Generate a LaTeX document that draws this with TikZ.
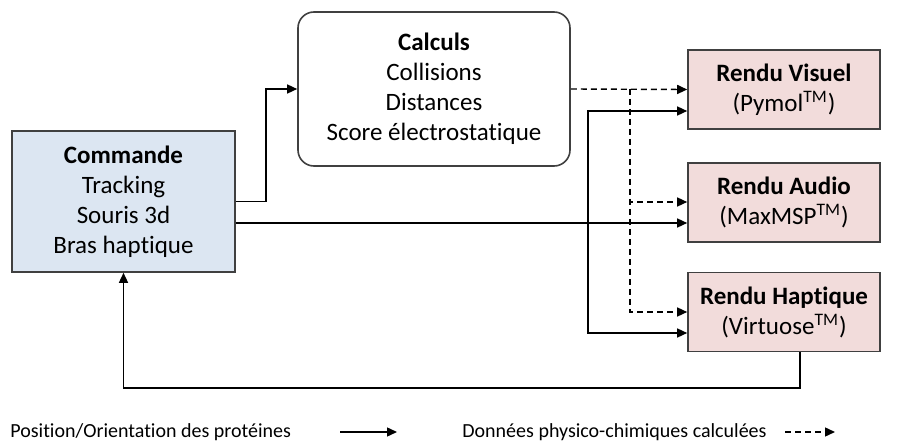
\documentclass[tikz,border=0pt]{standalone}
\usepackage{fontspec}
\setmainfont{Carlito}[Ligatures=CommonOff]
\usetikzlibrary{arrows.meta}

\definecolor{bleu}{HTML}{DCE6F2}
\definecolor{rose}{HTML}{F2DCDB}
\definecolor{bord}{HTML}{404040}

\begin{document}
\begin{tikzpicture}[x=0.5pt, y=-0.5pt,
    every node/.style={font=\fontsize{12.5}{15}\selectfont, align=center},
    boite/.style={rectangle, draw=bord, line width=0.8pt, inner sep=0pt},
    rendu/.style={boite, fill=rose, minimum width=96pt, minimum height=39.5pt},
    fleche/.style={line width=0.7pt, -{Triangle[length=5pt, width=4.5pt]}},
    pointille/.style={fleche, dash pattern=on 3pt off 2pt}]

        \useasboundingbox (0,0) rectangle (901,444);

        % Boites
        \node[boite, fill=bleu, minimum width=111.5pt, minimum height=70.5pt] (cmd) at (123.5,201.5) {\textbf{Commande}\\Tracking\\Souris 3d\\Bras haptique};
        \node[boite, fill=white, rounded corners=8pt, minimum width=136pt, minimum height=77pt] (calc) at (434,89) {\textbf{Calculs}\\Collisions\\Distances\\Score électrostatique};
        \node[rendu] (visuel) at (784,89.5) {\textbf{Rendu Visuel}\\(Pymol\textsuperscript{TM})};
        \node[rendu] (audio) at (784,202.5) {\textbf{Rendu Audio}\\(MaxMSP\textsuperscript{TM})};
        \node[rendu] (haptique) at (784,312) {\textbf{Rendu Haptique}\\(Virtuose\textsuperscript{TM})};

        % Points de branchement
        \coordinate (bs) at (588,223);
        \coordinate (bd) at (630,89);

        % Fleches pleines
        \draw[fleche] (cmd.east) -- (266,201.5) |- (calc.west);
        \draw[fleche] (cmd.east |- 0,223) -- (audio.west |- 0,223);
        \draw[fleche] (bs) |- (visuel.west |- 0,111);
        \draw[fleche] (bs) |- (haptique.west |- 0,333);
        \draw[fleche] (haptique.south -| 800,0) -- (800,388) -| (cmd.south);

        % Fleches pointillees
        \draw[pointille] (calc.east) -- (visuel.west);
        \draw[pointille] (bd) |- (audio.west |- 0,202);
        \draw[pointille] (bd) |- (haptique.west |- 0,312);

        % Legende
        \node[anchor=west, font=\fontsize{10}{12}\selectfont, inner sep=0pt] (lpos) at (10,432) {Position/Orientation des protéines};
        \node[anchor=west, font=\fontsize{10}{12}\selectfont, inner sep=0pt] (ldon) at (462,432) {Données physico-chimiques calculées};
        \coordinate (a1) at (340,432);
        \coordinate (a2) at (397,432);
        \coordinate (b1) at (785,432);
        \coordinate (b2) at (835,432);
        \draw[fleche] (a1) -- (a2);
        \draw[pointille] (b1) -- (b2);
\end{tikzpicture}
\end{document}
